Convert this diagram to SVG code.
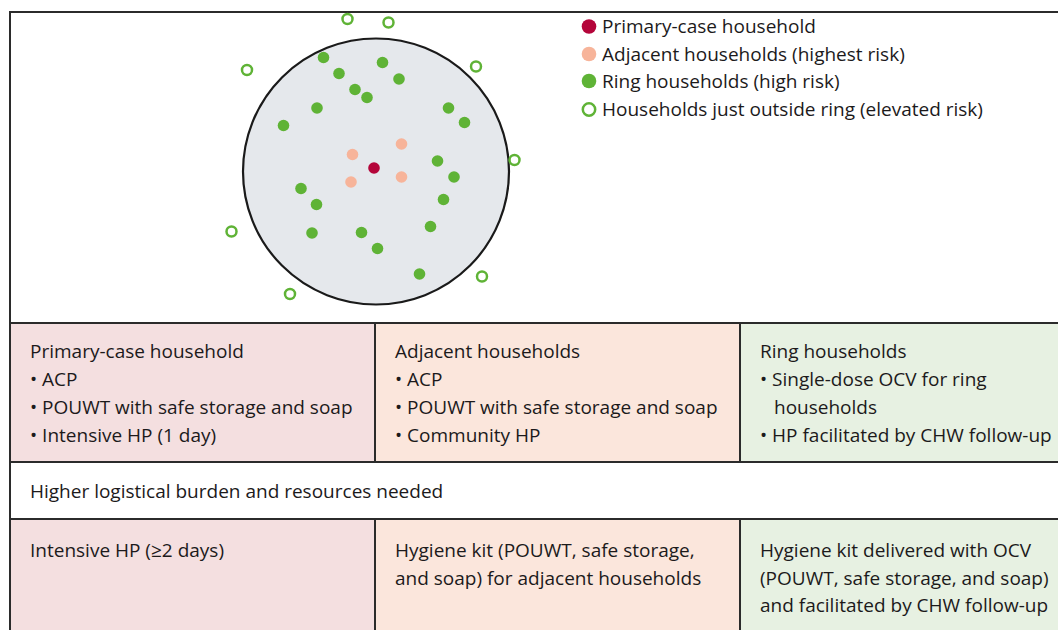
<svg xmlns="http://www.w3.org/2000/svg" width="1058" height="630" viewBox="0 0 1058 630">
<style>
.t{font-family:"Open Sans","Noto Sans","Liberation Sans",sans-serif;font-size:19px;fill:#1c1a1b}
.ln{stroke:#2b2b2b;stroke-width:2;fill:none}
.g{fill:#5fb336}
.o{fill:none;stroke:#5fb336;stroke-width:2.5}
.a{fill:#f7b49a}
.p{fill:#b4053a}
</style>
<rect x="0" y="0" width="1058" height="630" fill="#ffffff"/>
<g id="cells">
<rect id="cell-primary" x="10" y="323" width="365" height="139" fill="#f4dfe0"/>
<rect id="cell-adjacent" x="375" y="323" width="365" height="139" fill="#fbe6dc"/>
<rect id="cell-ring" x="740" y="323" width="318" height="139" fill="#e7f1e2"/>
<rect id="cell-burden" x="10" y="462" width="1048" height="57" fill="#ffffff"/>
<rect id="cell-primary-2" x="10" y="519" width="365" height="111" fill="#f4dfe0"/>
<rect id="cell-adjacent-2" x="375" y="519" width="365" height="111" fill="#fbe6dc"/>
<rect id="cell-ring-2" x="740" y="519" width="318" height="111" fill="#e7f1e2"/>
</g>
<g id="frame">
<path class="ln" d="M10,630 V12 H1058"/>
<path class="ln" d="M10,323 H1058 M10,462 H1058 M10,519 H1058 M375,323 V462 M740,323 V462 M375,519 V630 M740,519 V630"/>
</g>
<g id="ring-map">
<circle cx="376" cy="171.5" r="133" fill="#e5e8ec" stroke="#1a1a1a" stroke-width="2.2"/>
<circle class="p" cx="374" cy="168" r="5.8"/>
<circle class="a" cx="352.5" cy="154.5" r="5.8"/>
<circle class="a" cx="401.5" cy="144" r="5.8"/>
<circle class="a" cx="351" cy="182" r="5.8"/>
<circle class="a" cx="401.5" cy="177" r="5.8"/>
<circle class="g" cx="323.5" cy="57.5" r="5.8"/>
<circle class="g" cx="339" cy="73.5" r="5.8"/>
<circle class="g" cx="382.5" cy="62.5" r="5.8"/>
<circle class="g" cx="399" cy="79" r="5.8"/>
<circle class="g" cx="355" cy="89.5" r="5.8"/>
<circle class="g" cx="367" cy="97.5" r="5.8"/>
<circle class="g" cx="317" cy="108" r="5.8"/>
<circle class="g" cx="283.5" cy="125.5" r="5.8"/>
<circle class="g" cx="448.5" cy="108" r="5.8"/>
<circle class="g" cx="464.5" cy="122.5" r="5.8"/>
<circle class="g" cx="437.5" cy="161" r="5.8"/>
<circle class="g" cx="454" cy="177" r="5.8"/>
<circle class="g" cx="301" cy="188.5" r="5.8"/>
<circle class="g" cx="316.5" cy="204.5" r="5.8"/>
<circle class="g" cx="443.5" cy="199.5" r="5.8"/>
<circle class="g" cx="312" cy="233" r="5.8"/>
<circle class="g" cx="361.5" cy="232.5" r="5.8"/>
<circle class="g" cx="377.5" cy="248.5" r="5.8"/>
<circle class="g" cx="430.5" cy="226.5" r="5.8"/>
<circle class="g" cx="419.5" cy="274" r="5.8"/>
<circle class="o" cx="347.5" cy="19" r="5"/>
<circle class="o" cx="388.5" cy="22.5" r="5"/>
<circle class="o" cx="247" cy="70" r="5"/>
<circle class="o" cx="476" cy="66.5" r="5"/>
<circle class="o" cx="514.5" cy="160" r="5"/>
<circle class="o" cx="231.5" cy="231.5" r="5"/>
<circle class="o" cx="482" cy="276.5" r="5"/>
<circle class="o" cx="290" cy="294" r="5"/>
</g>
<g id="legend">
<circle class="p" cx="589" cy="26.5" r="7.3"/>
<text class="t" x="602" y="33">Primary-case household</text>
<circle class="a" cx="589" cy="54" r="7.3"/>
<text class="t" x="602" y="61">Adjacent households (highest risk)</text>
<circle class="g" cx="589" cy="81" r="7.3"/>
<text class="t" x="602" y="88">Ring households (high risk)</text>
<circle class="o" cx="589" cy="109.5" r="6.2"/>
<text class="t" x="602" y="116">Households just outside ring (elevated risk)</text>
</g>
<g id="primary-case-household">
<text class="t" x="30" y="358">Primary-case household</text>
<text class="t" x="30" y="386">• ACP</text>
<text class="t" x="30" y="414">• POUWT with safe storage and soap</text>
<text class="t" x="30" y="442">• Intensive HP (1 day)</text>
</g>
<g id="adjacent-households">
<text class="t" x="395" y="358">Adjacent households</text>
<text class="t" x="395" y="386">• ACP</text>
<text class="t" x="395" y="414">• POUWT with safe storage and soap</text>
<text class="t" x="395" y="442">• Community HP</text>
</g>
<g id="ring-households">
<text class="t" x="760" y="358">Ring households</text>
<text class="t" x="760" y="386">• Single-dose OCV for ring</text>
<text class="t" x="774" y="414">households</text>
<text class="t" x="760" y="442">• HP facilitated by CHW follow-up</text>
</g>
<g id="burden">
<text class="t" x="30" y="498">Higher logistical burden and resources needed</text>
</g>
<g id="primary-extra">
<text class="t" x="30" y="557">Intensive HP (≥2 days)</text>
</g>
<g id="adjacent-extra">
<text class="t" x="395" y="557">Hygiene kit (POUWT, safe storage,</text>
<text class="t" x="395" y="585">and soap) for adjacent households</text>
</g>
<g id="ring-extra">
<text class="t" x="760" y="557">Hygiene kit delivered with OCV</text>
<text class="t" x="760" y="585">(POUWT, safe storage, and soap)</text>
<text class="t" x="760" y="612">and facilitated by CHW follow-up</text>
</g>
</svg>
